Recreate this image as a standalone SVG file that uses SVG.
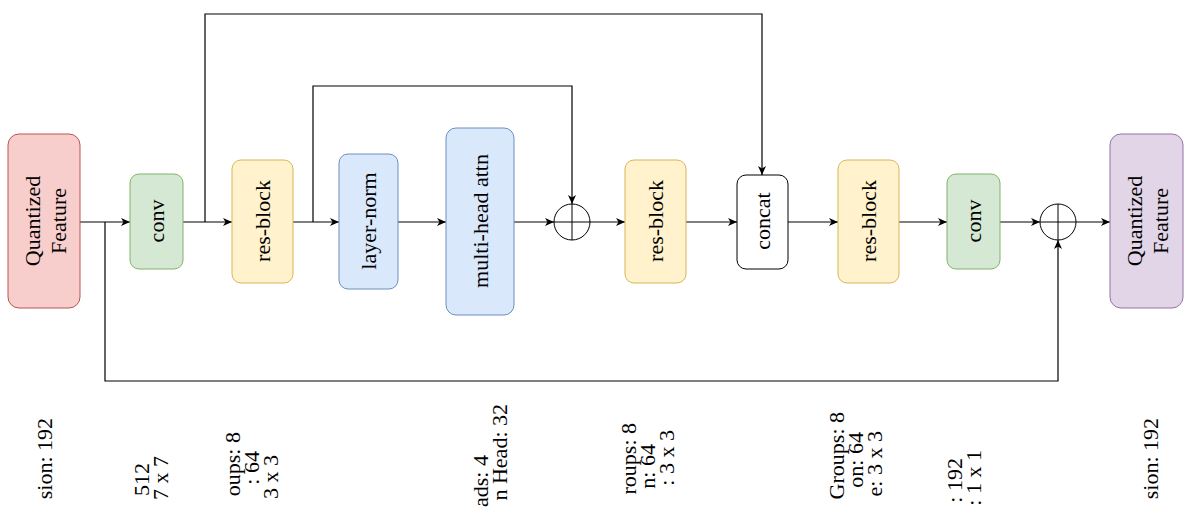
<svg xmlns="http://www.w3.org/2000/svg" width="1194" height="508" viewBox="0 0 1194 508">
<defs><marker id="a" markerWidth="10" markerHeight="10" refX="9" refY="5" orient="auto" markerUnits="userSpaceOnUse"><path d="M0,1 L9,5 L0,9 L2.5,5 Z" fill="#000"/></marker></defs>
<style>
text{font-family:"Liberation Serif",serif;font-size:22px;fill:#000}
.n{text-anchor:middle;dominant-baseline:central}
.e{text-anchor:end}
.c{fill:none;stroke:#000;stroke-width:1.2;marker-end:url(#a)}
.r{fill:#f8cecc;stroke:#b85450}.g{fill:#d5e8d4;stroke:#82b366}.y{fill:#fff2cc;stroke:#d6b656}.b{fill:#dae8fc;stroke:#6c8ebf}.p{fill:#e1d5e7;stroke:#9673a6}.w{fill:#fff;stroke:#000}
</style>
<rect width="1194" height="508" fill="#fff"/>
<g id="connectors">
<path class="c" d="M80,222H130"/><path class="c" d="M183,222H232"/><path class="c" d="M293,222H339"/><path class="c" d="M398,222H446"/><path class="c" d="M514,222H554"/><path class="c" d="M590,222H625"/><path class="c" d="M686,222H737"/><path class="c" d="M788,222H838"/><path class="c" d="M899,222H947"/><path class="c" d="M1000,222H1040"/><path class="c" d="M1076,222H1110"/>
<path class="c" d="M205,222V14H762V175"/><path class="c" d="M313,222V86H572V204"/><path class="c" d="M105,222V381H1058V240"/>
</g>
<g id="qf1"><rect class="r" x="8" y="134" width="72" height="174" rx="11"/><text class="n" transform="translate(44,221) rotate(-90)"><tspan x="0" dy="-12">Quantized</tspan><tspan x="0" dy="26">Feature</tspan></text></g>
<g id="conv1"><rect class="g" x="130" y="174" width="53" height="95" rx="9"/><text class="n" transform="translate(156,221) rotate(-90)">conv</text></g>
<g id="res1"><rect class="y" x="232" y="160" width="61" height="123" rx="9"/><text class="n" transform="translate(262,221) rotate(-90)">res-block</text></g>
<g id="ln"><rect class="b" x="339" y="154" width="59" height="135" rx="9"/><text class="n" transform="translate(368,221) rotate(-90)">layer-norm</text></g>
<g id="mha"><rect class="b" x="446" y="128" width="68" height="187" rx="10"/><text class="n" transform="translate(480,221) rotate(-90)">multi-head attn</text></g>
<g id="add1"><circle cx="572" cy="222" r="18" fill="#fff" stroke="#000"/><path d="M554,222H590M572,204V240" stroke="#000"/></g>
<g id="res2"><rect class="y" x="625" y="160" width="61" height="123" rx="9"/><text class="n" transform="translate(655,221) rotate(-90)">res-block</text></g>
<g id="concat"><rect class="w" x="737" y="175" width="51" height="94" rx="9"/><text class="n" transform="translate(762,221) rotate(-90)">concat</text></g>
<g id="res3"><rect class="y" x="838" y="160" width="61" height="123" rx="9"/><text class="n" transform="translate(868,221) rotate(-90)">res-block</text></g>
<g id="conv2"><rect class="g" x="947" y="174" width="53" height="95" rx="9"/><text class="n" transform="translate(973,221) rotate(-90)">conv</text></g>
<g id="add2"><circle cx="1058" cy="222" r="18" fill="#fff" stroke="#000"/><path d="M1040,222H1076M1058,204V240" stroke="#000"/></g>
<g id="qf2"><rect class="p" x="1110" y="134" width="73" height="174" rx="11"/><text class="n" transform="translate(1146,221) rotate(-90)"><tspan x="0" dy="-12">Quantized</tspan><tspan x="0" dy="26">Feature</tspan></text></g>
<g id="labels">
<text class="e" transform="translate(52,418) rotate(-90)">sion: 192</text>
<text class="e" transform="translate(149,463) rotate(-90)">512</text>
<text class="e" transform="translate(168,456) rotate(-90)">7 x 7</text>
<text class="e" transform="translate(240,432) rotate(-90)">oups: 8</text>
<text class="e" transform="translate(259,451) rotate(-90)">: 64</text>
<text class="e" transform="translate(278,455) rotate(-90)">3 x 3</text>
<text class="e" transform="translate(488,455) rotate(-90)">ads: 4</text>
<text class="e" transform="translate(507,404) rotate(-90)">n Head: 32</text>
<text class="e" transform="translate(636,423) rotate(-90)">roups: 8</text>
<text class="e" transform="translate(655,444) rotate(-90)">n: 64</text>
<text class="e" transform="translate(674,430) rotate(-90)">: 3 x 3</text>
<text class="e" transform="translate(844,412) rotate(-90)">Groups: 8</text>
<text class="e" transform="translate(863,432) rotate(-90)">on: 64</text>
<text class="e" transform="translate(882,431) rotate(-90)">e: 3 x 3</text>
<text class="e" transform="translate(962,458) rotate(-90)">: 192</text>
<text class="e" transform="translate(981,450) rotate(-90)">: 1 x 1</text>
<text class="e" transform="translate(1158,418) rotate(-90)">sion: 192</text>
</g>
</svg>
